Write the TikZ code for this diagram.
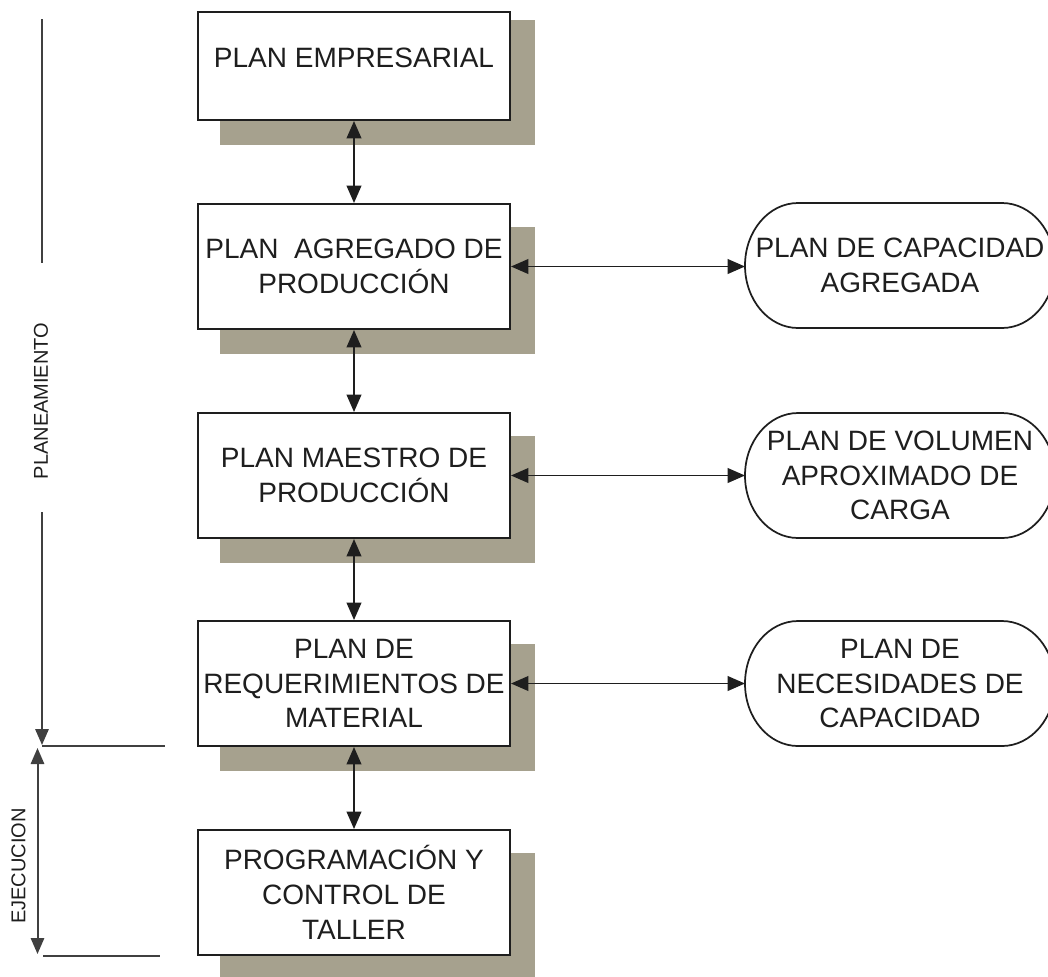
\documentclass[tikz,border=0pt]{standalone}
\usepackage{fontspec}
\setmainfont{Liberation Sans}
\usetikzlibrary{arrows.meta,backgrounds}
\definecolor{shadowcol}{RGB}{166,161,142}
\definecolor{ink}{RGB}{30,30,30}
\begin{document}
\begin{tikzpicture}[x=0.75pt,y=-0.75pt,
  boxfont/.style={font=\fontsize{21}{26}\selectfont},
  planbox/.style={draw=ink, line width=1.5pt, fill=white, minimum width=234pt,
    minimum height=93.75pt, inner sep=0pt, align=center, text=ink, boxfont},
  capnode/.style={minimum width=232.5pt, minimum height=93.75pt, inner sep=0pt,
    outer sep=0pt, align=center, text=ink, boxfont},
  capline/.style={draw=ink, line width=1.3pt},
  link/.style={draw=ink, line width=1.3pt, {Triangle[length=13pt,width=11pt]}-{Triangle[length=13pt,width=11pt]}},
  phase/.style={draw=ink!85, line width=1.5pt},
  phaselabel/.style={rotate=90, text=ink, font=\fontsize{15}{18}\selectfont}
]
\useasboundingbox (0,0) rectangle (1048,976);

% main chain of plans
\node[planbox, minimum height=81pt,
      label={[yshift=6.4pt, text=ink, boxfont]center:PLAN EMPRESARIAL}] (b1) at (354,66) {};
\node[planbox] (b2) at (354,266.5) {PLAN\ \ AGREGADO DE\\PRODUCCIÓN};
\node[planbox] (b3) at (354,475.5) {PLAN MAESTRO DE\\PRODUCCIÓN};
\node[planbox] (b4) at (354,683.5) {PLAN DE\\REQUERIMIENTOS DE\\MATERIAL};
\node[planbox] (b5) at (354,892.5) {PROGRAMACIÓN Y\\CONTROL DE\\TALLER};

% drop shadows behind the boxes
\begin{scope}[on background layer]
  \fill[shadowcol] ([shift={(23,9)}]b1.north west) rectangle ([shift={(24,24)}]b1.south east);
  \foreach \b in {b2,b3,b4,b5}
    \fill[shadowcol] ([shift={(23,24)}]\b.north west) rectangle ([shift={(24,24)}]\b.south east);
\end{scope}

% capacity plans (terminator shapes)
\node[capnode] (c1) at (900,265.5) {PLAN DE CAPACIDAD\\AGREGADA};
\node[capnode] (c2) at (900,475.5) {PLAN DE VOLUMEN\\APROXIMADO DE\\CARGA};
\node[capnode] (c3) at (900,683.5) {PLAN DE\\NECESIDADES DE\\CAPACIDAD};
\foreach \c in {c1,c2,c3}
  \draw[capline] ([xshift=39.75pt]\c.north west) -- ([xshift=-39.75pt]\c.north east)
    arc[start angle=90, end angle=-90, x radius=39.75pt, y radius=46.875pt]
    -- ([xshift=39.75pt]\c.south west)
    arc[start angle=270, end angle=90, x radius=39.75pt, y radius=46.875pt] -- cycle;

% vertical links
\draw[link] (b1.south) -- (b2.north);
\draw[link] (b2.south) -- (b3.north);
\draw[link] (b3.south) -- (b4.north);
\draw[link] (b4.south) -- (b5.north);

% horizontal links
\draw[link] (b2.east) -- (b2.east -| c1.west);
\draw[link] (b3.east) -- (b3.east -| c2.west);
\draw[link] (b4.east) -- (b4.east -| c3.west);

% phase markers on the left
\coordinate (pTop) at (42,19);
\coordinate (pTopEnd) at (42,263);
\coordinate (pMid) at (42,512);
\coordinate (pEnd) at (42,745);
\coordinate (eL1) at (42,746);
\coordinate (eR1) at (165,746);
\coordinate (eUp) at (37.5,748);
\coordinate (eDown) at (37.5,954);
\coordinate (eL2) at (43,956);
\coordinate (eR2) at (160,956);

\draw[phase] (pTop) -- (pTopEnd);
\draw[phase, -{Triangle[length=12pt,width=10pt]}] (pMid) -- (pEnd);
\node[phaselabel] (plan) at (41,401) {PLANEAMIENTO};

\draw[phase] (eL1) -- (eR1);
\draw[phase, {Triangle[length=12pt,width=10pt]}-{Triangle[length=12pt,width=10pt]}] (eUp) -- (eDown);
\draw[phase] (eL2) -- (eR2);
\node[phaselabel] (ejec) at (18.6,866) {EJECUCION};
\end{tikzpicture}
\end{document}
